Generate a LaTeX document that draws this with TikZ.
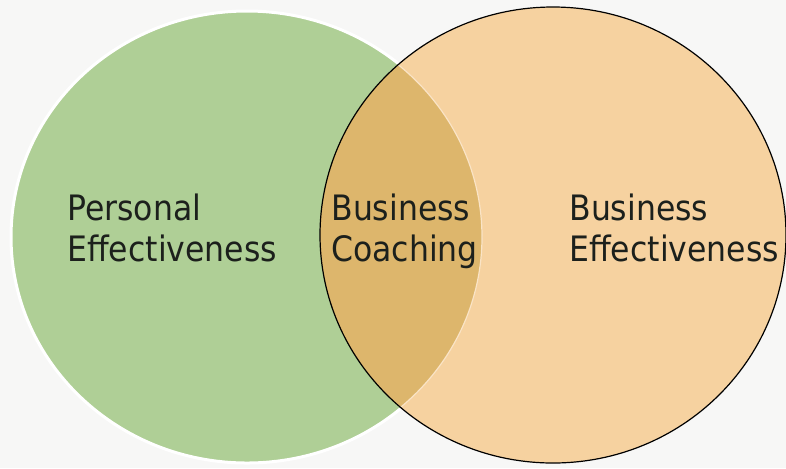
\documentclass[tikz,border=0pt]{standalone}
\usepackage{fontspec}
\setmainfont{DejaVu Sans Condensed}
\definecolor{paper}{RGB}{247,247,246}
\definecolor{sage}{RGB}{175,207,150}
\definecolor{peach}{RGB}{246,210,160}
\definecolor{gold}{RGB}{221,182,108}
\definecolor{ink}{RGB}{28,32,28}
\tikzset{
  label/.style={anchor=base west, inner sep=0pt, align=left, text=ink,
    font=\fontsize{17.5}{20}\selectfont}
}
\begin{document}
\begin{tikzpicture}[x=0.5pt,y=-0.5pt]
            \fill [paper] (0,0) rectangle (786,468);
            \useasboundingbox (0,0) rectangle (786,468);
            % personal side
            \fill [sage] (247,237) ellipse (235 and 225);
            \draw [white, line width=1.5pt] (247,237) ellipse (236 and 226);
            % business side
            \fill [peach] (553,235) ellipse (233 and 228);
            % overlap
            \begin{scope}
              \clip (553,235) ellipse (233 and 228);
              \fill [gold] (247,237) ellipse (235 and 225);
              \draw [peach!60!white, line width=0.6pt] (247,237) ellipse (235 and 225);
            \end{scope}
            \draw [black, line width=0.6pt] (553,235) ellipse (233 and 228);
            % labels
            \node [label] (pe1) at (67,220) {Personal};
            \node [label] (pe2) at (67,261) {Effectiveness};
            \node [label] (bc1) at (331,220) {Business};
            \node [label] (bc2) at (331,261) {Coaching};
            \node [label] (be1) at (569,220) {Business};
            \node [label] (be2) at (569,261) {Effectiveness};
        \end{tikzpicture}
\end{document}
